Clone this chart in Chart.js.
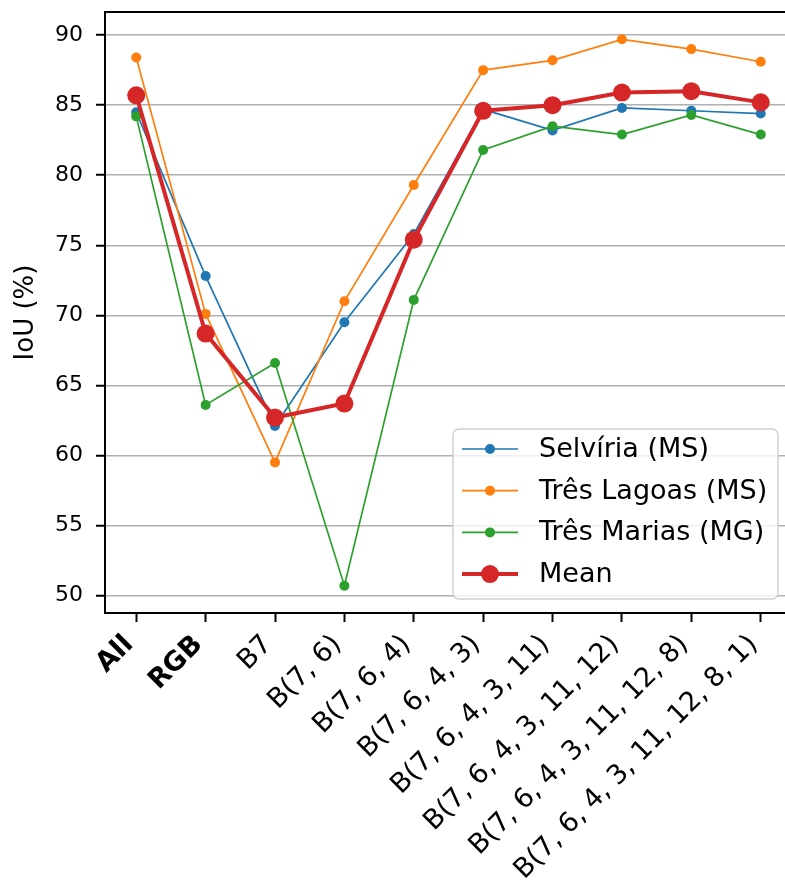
<!DOCTYPE html>
<html>
<head>
<meta charset="utf-8">
<script src="https://cdn.jsdelivr.net/npm/chart.js@4.4.0/dist/chart.umd.min.js"></script>
<style>
body { margin: 0; background: #fff; }
#wrap { width: 785px; height: 882px; }
</style>
</head>
<body>
<div id="wrap"><canvas id="iou" width="785" height="882"></canvas></div>
<script>
const xLabels = ['All', 'RGB', 'B7', 'B(7, 6)', 'B(7, 6, 4)', 'B(7, 6, 4, 3)',
  'B(7, 6, 4, 3, 11)', 'B(7, 6, 4, 3, 11, 12)', 'B(7, 6, 4, 3, 11, 12, 8)',
  'B(7, 6, 4, 3, 11, 12, 8, 1)'];
const boldLabels = ['All', 'RGB'];
const yTicks = [50, 55, 60, 65, 70, 75, 80, 85, 90];

const selviria   = [84.5, 72.8, 62.1, 69.5, 75.8, 84.7, 83.2, 84.8, 84.6, 84.4];
const tresLagoas = [88.4, 70.1, 59.5, 71.0, 79.3, 87.5, 88.2, 89.7, 89.0, 88.1];
const tresMarias = [84.2, 63.6, 66.6, 50.7, 71.1, 81.8, 83.5, 82.9, 84.3, 82.9];
const meanIoU    = [85.7, 68.7, 62.7, 63.7, 75.4, 84.6, 85.0, 85.9, 86.0, 85.2];

const FONT = 'DejaVu Sans';

function pts(vals) {
  return vals.map((v, i) => ({x: i, y: v}));
}

function series(label, vals, color, thick, order) {
  return {
    label: label,
    data: pts(vals),
    borderColor: color,
    backgroundColor: color,
    pointBackgroundColor: color,
    pointBorderWidth: 0,
    borderWidth: thick ? 4 : 1.7,
    pointRadius: thick ? 9 : 5,
    order: order,
  };
}

// spines left / top / bottom (the right one falls outside the canvas)
const frame = {
  id: 'frame',
  afterDatasetsDraw(chart) {
    const {ctx, chartArea: a} = chart;
    ctx.save();
    ctx.strokeStyle = '#000';
    ctx.lineWidth = 2;
    ctx.beginPath();
    ctx.moveTo(a.right + 10, a.top);
    ctx.lineTo(a.left, a.top);
    ctx.lineTo(a.left, a.bottom);
    ctx.lineTo(a.right + 10, a.bottom);
    ctx.stroke();
    ctx.restore();
  }
};

// matplotlib style legend, lower right inside the axes
const boxLegend = {
  id: 'boxLegend',
  afterDraw(chart) {
    const {ctx, chartArea: a} = chart;
    const sets = chart.data.datasets;
    const w = 325, h = 170;
    const x0 = a.right - 7 - w, y0 = a.bottom - 14 - h;
    ctx.save();
    ctx.fillStyle = 'rgba(255,255,255,0.8)';
    ctx.strokeStyle = 'rgba(204,204,204,0.9)';
    ctx.lineWidth = 1.5;
    ctx.beginPath();
    ctx.roundRect(x0, y0, w, h, 6);
    ctx.fill();
    ctx.stroke();
    ctx.font = '27px "' + FONT + '"';
    ctx.textBaseline = 'middle';
    sets.forEach((ds, i) => {
      const cy = y0 + 20 + i * 41.7;
      ctx.strokeStyle = ds.borderColor;
      ctx.lineWidth = ds.borderWidth;
      ctx.beginPath();
      ctx.moveTo(x0 + 9, cy);
      ctx.lineTo(x0 + 65, cy);
      ctx.stroke();
      ctx.fillStyle = ds.pointBackgroundColor;
      ctx.beginPath();
      ctx.arc(x0 + 37, cy, ds.pointRadius, 0, Math.PI * 2);
      ctx.fill();
      ctx.fillStyle = '#000';
      ctx.fillText(ds.label, x0 + 86, cy + 1);
    });
    ctx.restore();
  }
};

const chart = new Chart(document.getElementById('iou').getContext('2d'), {
  type: 'line',
  data: {
    datasets: [
      series('Selvíria (MS)', selviria, '#1f77b4', false, 4),
      series('Três Lagoas (MS)', tresLagoas, '#ff7f0e', false, 3),
      series('Três Marias (MG)', tresMarias, '#2ca02c', false, 2),
      series('Mean', meanIoU, '#d62728', true, 1),
    ]
  },
  options: {
    responsive: false,
    animation: false,
    layout: {autoPadding: false, padding: {top: 12, left: 0, right: 0, bottom: 0}},
    plugins: {
      legend: {display: false},
      tooltip: {enabled: false},
    },
    scales: {
      x: {
        type: 'linear',
        min: -0.45,
        max: 9.35,
        afterBuildTicks: (ax) => { ax.ticks = xLabels.map((_, i) => ({value: i})); },
        ticks: {
          autoSkip: false,
          maxRotation: 45,
          minRotation: 45,
          padding: 7,
          labelOffset: -7,
          color: '#000',
          font: (c) => ({family: FONT, size: 27,
            weight: boldLabels.includes(xLabels[c.index]) ? 'bold' : 'normal'}),
          callback: (v) => xLabels[v],
        },
        grid: {drawOnChartArea: false, tickColor: '#000', tickLength: 9, tickWidth: 2},
        border: {display: false},
        afterFit: (ax) => { ax.height = 269; ax.paddingLeft = 0; ax.paddingRight = 0; },
      },
      y: {
        min: 48.75,
        max: 91.65,
        afterBuildTicks: (ax) => { ax.ticks = yTicks.map(v => ({value: v})); },
        ticks: {font: {family: FONT, size: 22}, color: '#000', padding: 13},
        grid: {color: '#b0b0b0', lineWidth: 1.5, tickColor: '#000', tickLength: 9, tickWidth: 2},
        border: {display: false},
        title: {
          display: true,
          text: 'IoU (%)',
          color: '#000',
          font: {family: FONT, size: 26},
          padding: {top: 11, bottom: 0},
        },
        afterFit: (ax) => { ax.width = 105; ax.paddingTop = 0; ax.paddingBottom = 0; },
      },
    },
  },
  plugins: [frame, boxLegend],
});
</script>
</body>
</html>
